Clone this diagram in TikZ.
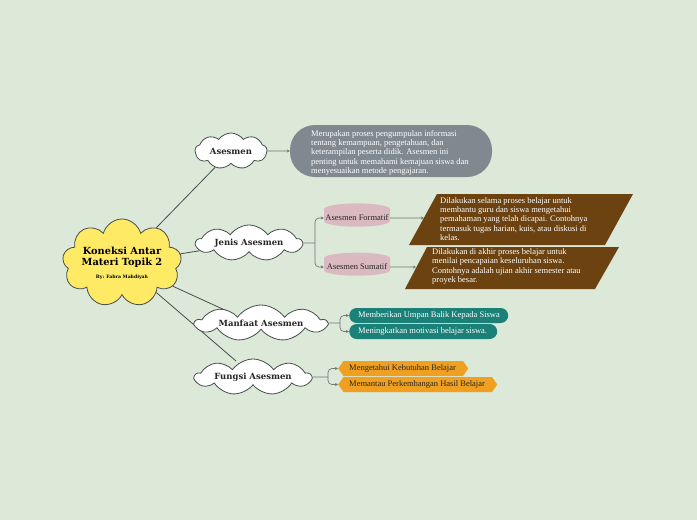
\documentclass[tikz,border=0pt]{standalone}
\usepackage{fontspec}
\setmainfont{Liberation Serif}
\newfontfamily\slab{DejaVu Serif}
\usetikzlibrary{shapes.symbols,shapes.geometric,arrows.meta}
\pgfdeclarelayer{bgl}
\pgfdeclarelayer{lines}
\pgfsetlayers{bgl,lines,main}
\definecolor{bg}{RGB}{220,232,216}
\definecolor{sun}{RGB}{255,234,102}
\definecolor{edge}{RGB}{70,78,74}
\definecolor{greybox}{RGB}{128,136,144}
\definecolor{pinkc}{RGB}{218,186,192}
\definecolor{brownp}{RGB}{107,66,16}
\definecolor{tealb}{RGB}{26,128,120}
\definecolor{orangeb}{RGB}{240,160,32}
\definecolor{conn}{RGB}{110,120,118}
\tikzset{
  cloudnode/.style={cloud, cloud puffs=9, cloud puff arc=110, cloud ignores aspect, draw=edge, line width=0.8pt, fill=white, inner sep=0pt, font=\slab\bfseries\fontsize{8.5}{10}\selectfont, text=black!85},
  mainline/.style={draw=edge, line width=0.8pt},
  branch/.style={draw=conn, line width=0.7pt, -{Stealth[length=3pt,width=3pt]}},
  bracket/.style={draw=conn, line width=0.7pt, rounded corners=4pt, -{Stealth[length=3pt,width=3pt]}},
  smalltext/.style={font=\fontsize{8.5}{9.3}\selectfont, align=left, inner sep=0pt},
  tealbox/.style={fill=tealb, rounded corners=7.5pt, minimum height=15pt, inner sep=0pt},
  orangebox/.style={signal, signal to=east and west, signal pointer angle=110, fill=orangeb, minimum height=15pt, inner sep=0pt},
  labeltext/.style={anchor=west, inner sep=0pt, font=\fontsize{8.5}{9}\selectfont},
  cyl/.style={cylinder, shape border rotate=90, aspect=0.18, fill=pinkc, minimum width=66pt, minimum height=23pt, inner sep=0pt, font=\fontsize{8.5}{9}\selectfont, text=black!85},
}
\begin{document}
\begin{tikzpicture}[x=1pt,y=-1pt]
\begin{pgfonlayer}{bgl}
\fill[bg] (0,0) rectangle (697,520);
\end{pgfonlayer}
\useasboundingbox (0,0) rectangle (697,520);

% central cloud
\node[cloud, cloud puffs=9, cloud ignores aspect, draw=edge, line width=0.8pt, fill=sun, minimum width=113pt, minimum height=88pt, align=center, inner sep=0pt] (c) at (122,263)
 {{\slab\bfseries\fontsize{9.8}{11}\selectfont Koneksi Antar}\\[-1pt]{\slab\bfseries\fontsize{9.8}{11}\selectfont Materi Topik 2}\\[1pt]{\slab\bfseries\fontsize{4.6}{6}\selectfont By: Fahra Mahdiyah}};

% topic clouds
\node[cloudnode, minimum width=72pt, minimum height=36pt] (a) at (231,151) {Asesmen};
\node[cloudnode, minimum width=106pt, minimum height=36pt] (j) at (249,243) {Jenis Asesmen};
\node[cloudnode, minimum width=131pt, minimum height=36pt] (m) at (261,323) {Manfaat Asesmen};
\node[cloudnode, minimum width=116pt, minimum height=36pt] (f) at (253,377) {Fungsi Asesmen};

% Asesmen definition
\node[fill=greybox, rounded corners=25pt, minimum width=202pt, minimum height=52pt, inner sep=0pt] (ab) at (391,151) {};
\node[smalltext, text=white, anchor=north west] (abt) at (311,130)
 {Merupakan proses pengumpulan informasi\\tentang kemampuan, pengetahuan, dan\\keterampilan peserta didik. Asesmen ini\\penting untuk memahami kemajuan siswa dan\\menyesuaikan metode pengajaran.};

% Jenis
\node[cyl] (fo) at (357,218) {Asesmen Formatif};
\node[cyl] (su) at (357,267) {Asesmen Sumatif};
\coordinate (jb) at (315,243);

\fill[brownp] (409,245) -- (437,194) -- (633,194) -- (605,245) -- cycle;
\coordinate (p1) at (424,218);
\node[smalltext, text=white, anchor=north west] (fot) at (440,197)
 {Dilakukan selama proses belajar untuk\\membantu guru dan siswa mengetahui\\pemahaman yang telah dicapai. Contohnya\\termasuk tugas harian, kuis, atau diskusi di\\kelas.};
\fill[brownp] (405,289) -- (427,247) -- (619,247) -- (595,289) -- cycle;
\coordinate (p2) at (416,267);
\node[smalltext, text=white, anchor=north west] (sut) at (432,248.5)
 {Dilakukan di akhir proses belajar untuk\\menilai pencapaian keseluruhan siswa.\\Contohnya adalah ujian akhir semester atau\\proyek besar.};

% Manfaat
\node[tealbox, minimum width=159pt, anchor=west] (t1) at (349,315.5) {};
\node[tealbox, minimum width=148pt, anchor=west] (t2) at (349,331.5) {};
\node[labeltext, text=white] (t1t) at (358,315.5) {Memberikan Umpan Balik Kepada Siswa};
\node[labeltext, text=white] (t2t) at (358,331.5) {Meningkatkan motivasi belajar siswa.};
\coordinate (mb) at (340,323);

% Fungsi
\node[orangebox, minimum width=130pt, anchor=west] (o1) at (338,368.5) {};
\node[orangebox, minimum width=159pt, anchor=west] (o2) at (338,384.5) {};
\node[labeltext, text=black!85] (o1t) at (349,368.5) {Mengetahui Kebutuhan Belajar};
\node[labeltext, text=black!85] (o2t) at (349,384.5) {Memantau Perkembangan Hasil Belajar};
\coordinate (fb) at (328,377);

% connectors
\begin{pgfonlayer}{lines}
\draw[mainline] (c) -- (a);
\draw[mainline] (c) -- (j);
\draw[mainline] (c) -- ([xshift=-34pt,yshift=12pt]m.center);
\draw[mainline] (c) -- ([xshift=-17pt,yshift=16pt]f.center);
\end{pgfonlayer}

\draw[branch] (a.east) -- (ab.west);
\draw[draw=conn, line width=0.7pt] (j.east) -- (jb);
\draw[bracket] (jb) |- (fo.west);
\draw[bracket] (jb) |- (su.west);
\draw[branch] (fo.east) -- (p1);
\draw[branch] (su.east) -- (p2);

\draw[draw=conn, line width=0.7pt] (m.east) -- (mb);
\draw[bracket] (mb) |- (t1.west);
\draw[bracket] (mb) |- (t2.west);

\draw[draw=conn, line width=0.7pt] (f.east) -- (fb);
\draw[bracket] (fb) |- (o1.west);
\draw[bracket] (fb) |- (o2.west);
\end{tikzpicture}
\end{document}
